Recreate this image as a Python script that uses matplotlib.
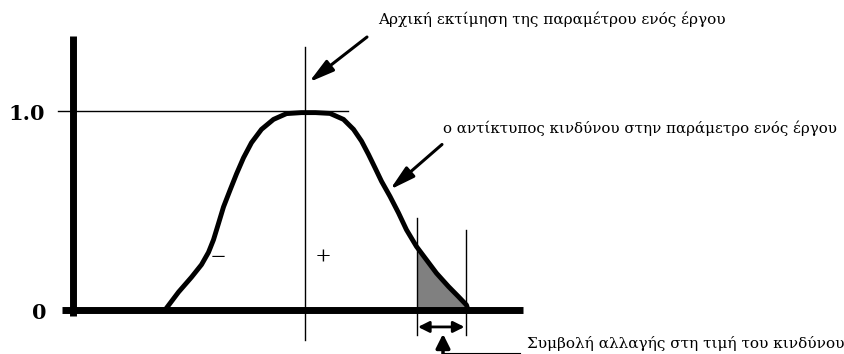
import numpy as np
import matplotlib.pyplot as plt
from matplotlib.patches import FancyArrowPatch

# risk impact curve (x in arbitrary units, y normalised)
curve_x = [1.84, 2.11, 2.37, 2.57, 2.71, 2.81, 2.91, 3.01, 3.14, 3.27, 3.41,
           3.57, 3.77, 4.01, 4.27, 4.57, 4.85, 5.14, 5.41, 5.61, 5.77, 5.91,
           6.04, 6.17, 6.34, 6.51, 6.67, 6.87, 7.07, 7.27, 7.51, 7.71, 7.87, 7.90]
curve_y = [0.0, 0.090, 0.165, 0.228, 0.290, 0.353, 0.435, 0.518, 0.602, 0.684, 0.765,
           0.841, 0.908, 0.958, 0.987, 0.992, 0.992, 0.988, 0.958, 0.908, 0.849, 0.782,
           0.715, 0.647, 0.571, 0.488, 0.403, 0.319, 0.252, 0.185, 0.118, 0.067, 0.025, 0.0]

estimate_x = 4.64          # initial estimate of the parameter
shade_from, shade_to = 6.87, 7.86
axis_end = 9.0

label_estimate = "Αρχική εκτίμηση της παραμέτρου ενός έργου"
label_impact = "ο αντίκτυπος κινδύνου στην παράμετρο ενός έργου"
label_change = "Συμβολή αλλαγής στη τιμή του κινδύνου"

fig = plt.figure(figsize=(8.45, 3.54), dpi=100)
ax = fig.add_axes([0, 0, 1, 1])
ax.set_xlim(-1.46, 15.44)
ax.set_ylim(-0.221, 1.558)
ax.axis("off")

serif = "DejaVu Serif"
arrow_head = "-|>,head_length=0.75,head_width=0.2"

# axes of the sketch
ax.plot([0, 0], [-0.03, 1.375], color="black", lw=5, solid_capstyle="butt")
ax.plot([-0.22, axis_end], [0, 0], color="black", lw=5, solid_capstyle="butt")
ax.plot([-0.30, 5.5], [1.0, 1.0], color="black", lw=1)
ax.plot([estimate_x, estimate_x], [-0.15, 1.32], color="black", lw=1)

# curve and shaded tail
cx = np.array(curve_x)
cy = np.array(curve_y)
ax.fill_between(cx, 0, cy, where=cx >= shade_from - 1e-9, color="#808080", lw=0)
ax.plot(cx, cy, color="black", lw=3.5, solid_capstyle="round", solid_joinstyle="round")

ax.plot([shade_from, shade_from], [-0.125, 0.46], color="black", lw=1)
ax.plot([shade_to, shade_to], [-0.125, 0.40], color="black", lw=1)

ax.text(-0.56, 0.986, "1.0", fontsize=15, fontweight="bold", family=serif,
        ha="right", va="center")
ax.text(-0.52, -0.015, "0", fontsize=15, fontweight="bold", family=serif,
        ha="right", va="center")
ax.text(2.9, 0.257, "−", fontsize=19, family="Liberation Serif", ha="center", va="center")
ax.text(5.0, 0.257, "+", fontsize=19, family="Liberation Serif", ha="center", va="center")

# labels with arrows
ax.annotate("", xy=(4.72, 1.145), xytext=(5.88, 1.372),
            arrowprops=dict(arrowstyle=arrow_head, color="black", lw=2.2,
                            mutation_scale=20, shrinkA=0, shrinkB=0))
ax.text(6.1, 1.462, label_estimate, fontsize=11, family=serif, va="center")

ax.annotate("", xy=(6.34, 0.605), xytext=(7.38, 0.832),
            arrowprops=dict(arrowstyle=arrow_head, color="black", lw=2.2,
                            mutation_scale=20, shrinkA=0, shrinkB=0))
ax.text(7.4, 0.913, label_impact, fontsize=10.8, family=serif, va="center")

# width of the change (double arrow) and pointer to its label
ax.add_patch(FancyArrowPatch((shade_from + 0.03, -0.085), (shade_to - 0.03, -0.085),
                             arrowstyle="<|-|>,head_length=0.6,head_width=0.3",
                             mutation_scale=11, color="black", lw=2,
                             shrinkA=0, shrinkB=0))
ax.annotate("", xy=(7.4, -0.12), xytext=(7.4, -0.23),
            arrowprops=dict(arrowstyle="-|>,head_length=0.7,head_width=0.35",
                            color="black", lw=2.5, mutation_scale=12,
                            shrinkA=0, shrinkB=0))
ax.plot([7.4, 8.94], [-0.217, -0.217], color="black", lw=0.8)
ax.text(9.08, -0.166, label_change, fontsize=11, family=serif, va="center")

fig.savefig("out.png", dpi=100)
